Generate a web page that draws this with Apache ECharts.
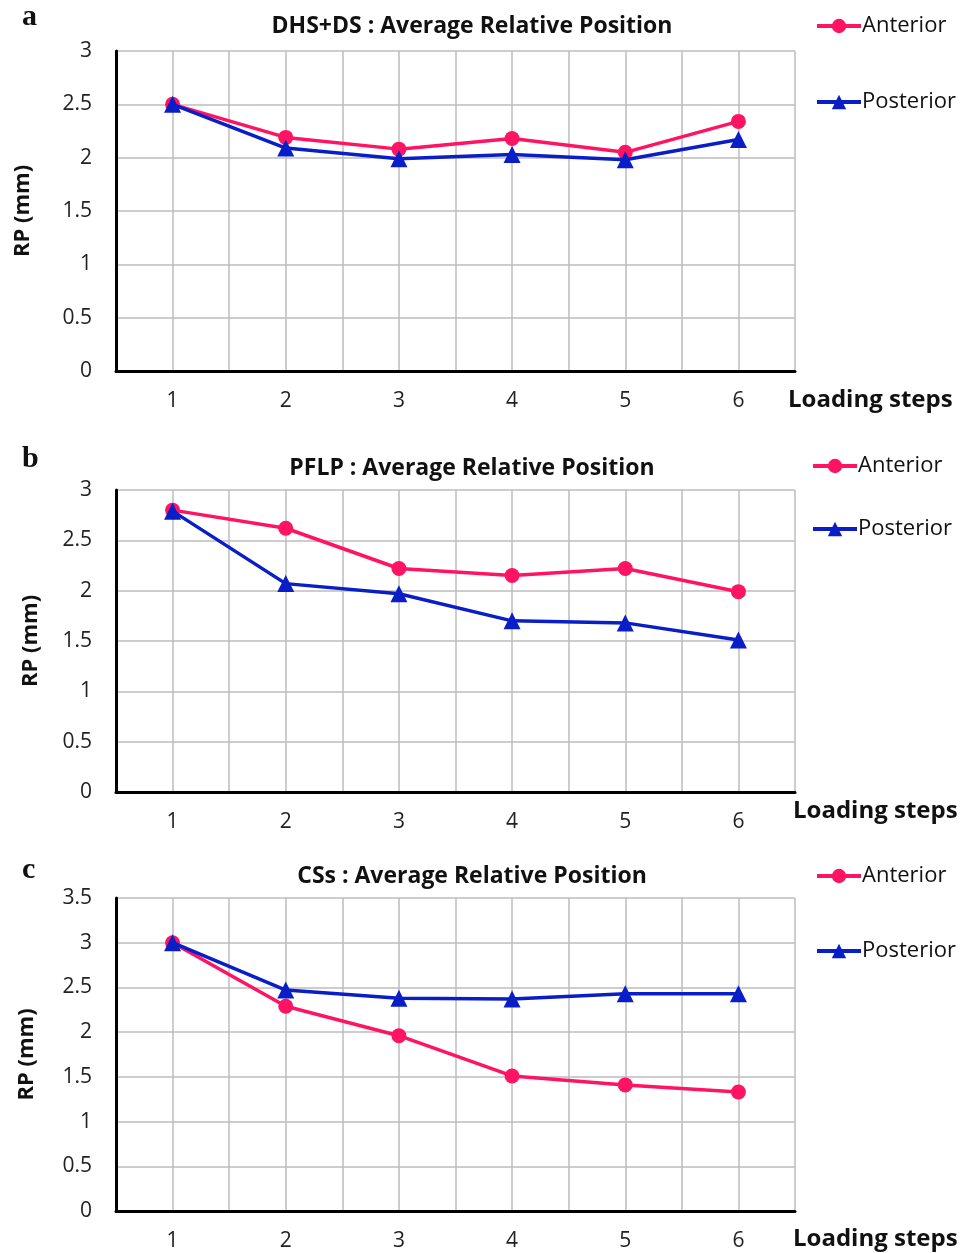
<!DOCTYPE html>
<html>
<head>
<meta charset="utf-8">
<title>RP chart</title>
<style>
  html, body { margin: 0; padding: 0; background: #fff; }
  #main { width: 963px; height: 1253px; }
</style>
</head>
<body>
<div id="main"></div>
<script src="https://cdn.jsdelivr.net/npm/echarts@6/dist/echarts.min.js"></script>
<script>
var steps = [1, 2, 3, 4, 5, 6];
var stepTicks = ['1', '2', '3', '4', '5', '6'];
var panelTitles = ['DHS+DS : Average Relative Position', 'PFLP : Average Relative Position', 'CSs : Average Relative Position'];
var panelLetters = ['a', 'b', 'c'];
var yMax = [3, 3, 3.5];

var dhsAnterior = [2.5, 2.19, 2.08, 2.18, 2.05, 2.34];
var dhsPosterior = [2.5, 2.09, 1.99, 2.03, 1.98, 2.17];
var pflpAnterior = [2.80, 2.62, 2.22, 2.15, 2.22, 1.99];
var pflpPosterior = [2.79, 2.07, 1.97, 1.70, 1.68, 1.51];
var cssAnterior = [3.0, 2.29, 1.96, 1.51, 1.41, 1.33];
var cssPosterior = [3.0, 2.47, 2.38, 2.37, 2.43, 2.43];

var anteriorSets = [dhsAnterior, pflpAnterior, cssAnterior];
var posteriorSets = [dhsPosterior, pflpPosterior, cssPosterior];

var pink = '#ff1464';
var blue = '#0a1ec8';
var font = 'Open Sans';

// panel layout
var grids = [
    { left: 116, right: 168, top: 51, height: 320 },
    { left: 116, right: 168, top: 490, height: 302 },
    { left: 116, right: 168, top: 898, height: 313 }
];
var titleTops = [15, 457, 865];
var letterTops = [2, 444, 855];
var stepsTops = [388, 799, 1227];
var stepsLeft = [788, 793, 793];
var legendTops = [15, 455, 865];
var legendLefts = [815, 811, 815];
var legendGaps = [54, 41, 53];
var nameGaps = [82, 74, 78];

function pairs(arr) {
    var res = [];
    for (var i = 0; i < steps.length; i++) {
        res.push([steps[i], arr[i]]);
    }
    return res;
}

var titles = [], xAxes = [], yAxes = [], series = [], legends = [];
for (var p = 0; p < 3; p++) {
    titles.push({
        text: panelTitles[p], left: 472, top: titleTops[p], textAlign: 'center', padding: 0,
        textStyle: { fontFamily: font, fontSize: 23, fontWeight: 'bold', color: '#111' }
    });
    titles.push({
        text: panelLetters[p], left: 22, top: letterTops[p], padding: 0,
        textStyle: { fontFamily: 'Liberation Serif', fontSize: 30, fontWeight: 'bold', color: '#111' }
    });
    titles.push({
        text: 'Loading steps', left: stepsLeft[p], top: stepsTops[p], padding: 0,
        textStyle: { fontFamily: font, fontSize: 24, fontWeight: 'bold', color: '#111' }
    });
    xAxes.push({
        gridIndex: p,
        type: 'value',
        min: 0.5,
        max: 6.5,
        interval: 0.5,
        axisLine: { show: true, onZero: false, lineStyle: { color: '#000', width: 3 } },
        axisTick: { show: false },
        axisLabel: {
            fontFamily: font, fontSize: 21, color: '#222', margin: 20,
            showMinLabel: true, showMaxLabel: true,
            formatter: function (v) {
                var idx = steps.indexOf(v);
                return idx >= 0 ? stepTicks[idx] : '';
            }
        },
        splitLine: { show: true, lineStyle: { color: '#bdbdbd', width: 1.5 } }
    });
    yAxes.push({
        gridIndex: p,
        type: 'value',
        min: 0,
        max: yMax[p],
        interval: 0.5,
        name: 'RP (mm)',
        nameLocation: 'middle',
        nameGap: nameGaps[p],
        nameTextStyle: { fontFamily: font, fontSize: 22, fontWeight: 'bold', color: '#111' },
        axisLine: { show: true, lineStyle: { color: '#000', width: 3 } },
        axisTick: { show: false },
        axisLabel: { fontFamily: font, fontSize: 21, color: '#222', margin: 24 },
        splitLine: { show: true, lineStyle: { color: '#bdbdbd', width: 1.5 } }
    });
    series.push({
        name: 'Anterior', type: 'line', xAxisIndex: p, yAxisIndex: p,
        data: pairs(anteriorSets[p]),
        symbol: 'circle', symbolSize: 15,
        lineStyle: { color: pink, width: 3.5 },
        itemStyle: { color: pink },
        z: 2
    });
    series.push({
        name: 'Posterior', type: 'line', xAxisIndex: p, yAxisIndex: p,
        data: pairs(posteriorSets[p]),
        symbol: 'triangle', symbolSize: 17,
        lineStyle: { color: blue, width: 3.5 },
        itemStyle: { color: blue },
        z: 3
    });
    legends.push({
        orient: 'vertical', left: legendLefts[p], top: legendTops[p],
        itemWidth: 44, itemHeight: 18, itemGap: legendGaps[p], padding: 0,
        selectedMode: false,
        lineStyle: { width: 4 },
        data: ['Anterior', 'Posterior'],
        textStyle: { fontFamily: font, fontSize: 22, color: '#111', padding: [0, 0, 0, -4] }
    });
}

var myChart = echarts.init(document.getElementById('main'));
myChart.setOption({
    backgroundColor: '#fff',
    animation: false,
    title: titles,
    legend: legends,
    grid: grids,
    xAxis: xAxes,
    yAxis: yAxes,
    series: series
});
</script>
</body>
</html>
